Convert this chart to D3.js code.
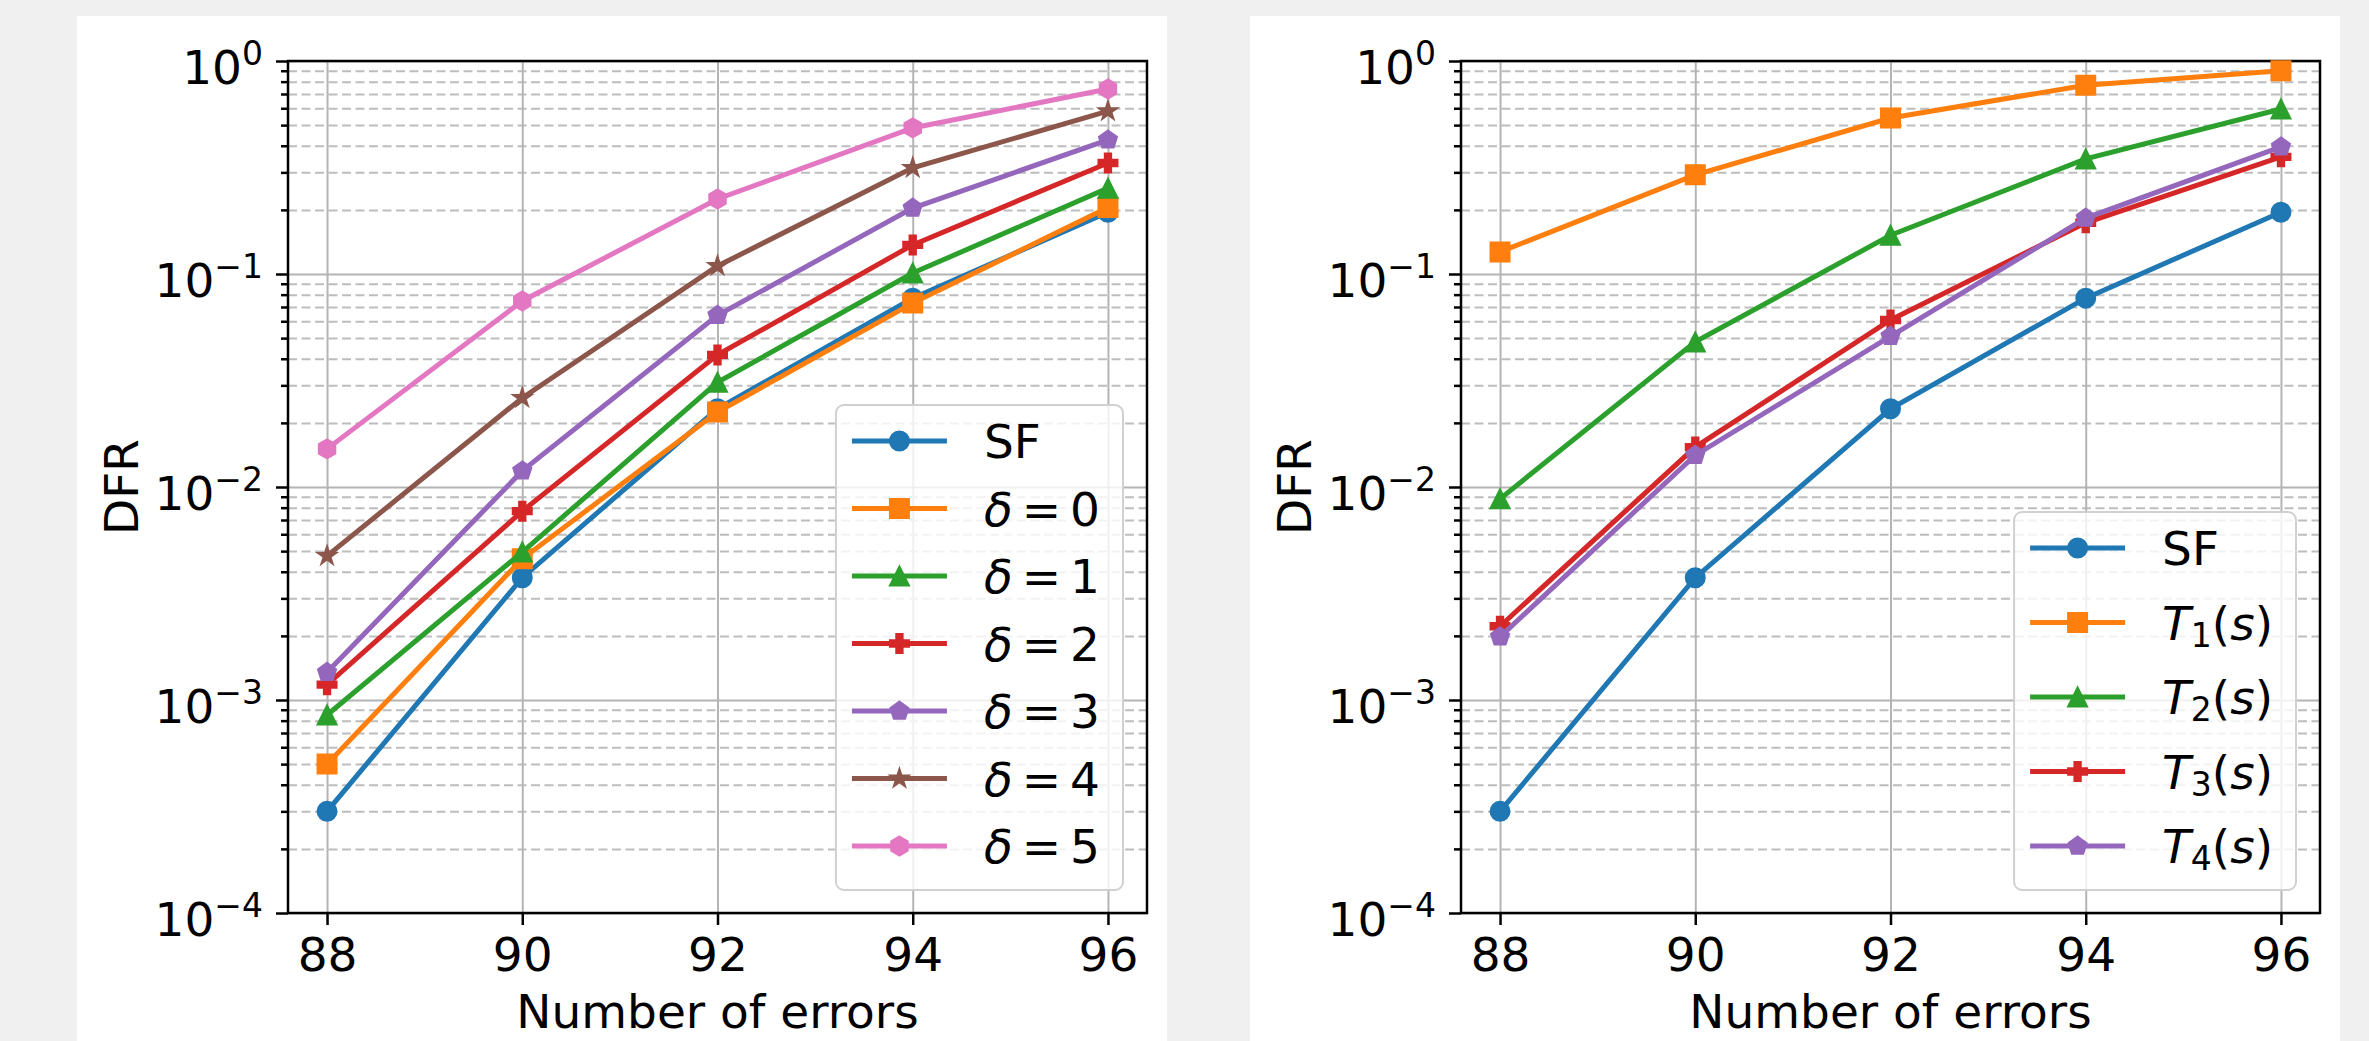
<!DOCTYPE html>
<meta charset="utf-8">
<style>
body { margin: 0; background: #f0f0f0; }
svg { display: block; font-family: "DejaVu Sans", sans-serif; }
.grid .domain, .axis .domain { display: none; }
.grid.major line { stroke: #b4b4b4; stroke-width: 2; }
.grid.minor line { stroke: #bdbdbd; stroke-width: 2; stroke-dasharray: 9,4.5; }
.axis line { stroke: #000; stroke-width: 2.5; }
.axis text { fill: #000; }
.series path.line { fill: none; stroke-width: 5; }
</style>
<svg width="2369" height="1041"></svg>
<script src="https://cdn.jsdelivr.net/npm/d3@7"></script>
<script>
// number of errors on the x axis
var errors = [88, 90, 92, 94, 96];

// left panel: DFR for SF and delta = 0..5
var sf     = [3.0e-4, 3.75e-3, 0.0233, 0.077, 0.195];
var delta0 = [5.0e-4, 4.6e-3, 0.0225, 0.073, 0.205];
var delta1 = [8.5e-4, 4.95e-3, 0.031, 0.101, 0.253];
var delta2 = [1.18e-3, 7.7e-3, 0.0417, 0.137, 0.332];
var delta3 = [1.35e-3, 0.0119, 0.064, 0.204, 0.426];
var delta4 = [4.75e-3, 0.0262, 0.109, 0.315, 0.582];
var delta5 = [0.0151, 0.0747, 0.225, 0.485, 0.739];
var leftNames = ["SF", "δ=0", "δ=1", "δ=2", "δ=3", "δ=4", "δ=5"];

// right panel: DFR for SF and T1(s)..T4(s)
var t1 = [0.127, 0.292, 0.54, 0.77, 0.90];
var t2 = [0.0088, 0.048, 0.152, 0.347, 0.595];
var t3 = [2.22e-3, 0.0154, 0.0608, 0.174, 0.355];
var t4 = [1.98e-3, 0.0141, 0.051, 0.183, 0.395];
var rightNames = ["SF", "T1(s)", "T2(s)", "T3(s)", "T4(s)"];

var yTicks = [1e-4, 1e-3, 1e-2, 1e-1, 1];

var colors = ["#1f77b4", "#ff7f0e", "#2ca02c", "#d62728", "#9467bd", "#8c564b", "#e377c2"],
    markers = ["o", "s", "^", "P", "p", "*", "h"];

var svg = d3.select("svg"),
    margin = {top: 45, left: 211},
    width = 859,
    height = 852,
    fs = 47;

var minorTicks = [];
for (var k = -4; k < 0; k++) {
  for (var m = 2; m < 10; m++) minorTicks.push(m * Math.pow(10, k));
}

// matplotlib-like marker outlines, centred on 0,0
function markerPath(type, s) {
  var r = s / 2, pts = [], n, i, a, rr;
  if (type === "o") return "M" + r + ",0A" + r + "," + r + " 0 1,1 " + (-r) + ",0A" + r + "," + r + " 0 1,1 " + r + ",0Z";
  if (type === "s") return "M" + (-r) + "," + (-r) + "H" + r + "V" + r + "H" + (-r) + "Z";
  if (type === "^") return "M0," + (-r) + "L" + r + "," + r + "L" + (-r) + "," + r + "Z";
  if (type === "P") {
    var t = r / 3;
    return "M" + (-t) + "," + (-r) + "H" + t + "V" + (-t) + "H" + r + "V" + t + "H" + t + "V" + r +
           "H" + (-t) + "V" + t + "H" + (-r) + "V" + (-t) + "H" + (-t) + "Z";
  }
  n = type === "p" ? 5 : type === "h" ? 6 : 10;
  for (i = 0; i < n; i++) {
    a = -Math.PI / 2 + i * 2 * Math.PI / n;
    rr = (type === "*" && i % 2) ? r * 0.381966 : r;
    pts.push([rr * Math.cos(a), rr * Math.sin(a)]);
  }
  return "M" + pts.join("L") + "Z";
}

// legend labels with math-style italics, subscripts and relation spacing
function mathLabel(text, s) {
  if (s === "SF") { text.text(s); return; }
  var prev = "", sub = false;
  s.split("").forEach(function(c) {
    if (c === "δ" || c === "T" || c === "s") {
      text.append("tspan").style("font-style", "italic").text(c);
    } else if (prev === "T" && /\d/.test(c)) {
      text.append("tspan").attr("font-size", 33).attr("dy", 7).text(c);
      sub = true;
    } else if (c === "=") {
      text.append("tspan").attr("dx", 9).text(c);
    } else {
      var ts = text.append("tspan").text(c);
      if (prev === "=") ts.attr("dx", 9);
      if (sub) { ts.attr("dy", -7); sub = false; }
    }
    prev = c;
  });
}

function drawPanel(px, values, names, rowStep) {
  var panel = svg.append("g").attr("transform", "translate(" + px + ",16)");
  panel.append("rect").attr("width", 1090).attr("height", 1100).attr("fill", "#fff");

  var g = panel.append("g").attr("transform", "translate(" + margin.left + "," + margin.top + ")");

  var x = d3.scaleLinear().domain([87.6, 96.4]).range([0, width]),
      y = d3.scaleLog().domain([1e-4, 1]).range([height, 0]);

  // grid
  g.append("g").attr("class", "grid minor")
      .call(d3.axisLeft(y).tickValues(minorTicks).tickSize(-width).tickFormat(""));
  g.append("g").attr("class", "grid major")
      .call(d3.axisLeft(y).tickValues(yTicks).tickSize(-width).tickFormat(""));
  g.append("g").attr("class", "grid major")
      .attr("transform", "translate(0," + height + ")")
      .call(d3.axisBottom(x).tickValues(errors).tickSize(-height).tickFormat(""));

  // axes
  g.append("g").attr("class", "axis")
      .attr("transform", "translate(0," + height + ")")
      .call(d3.axisBottom(x).tickValues(errors).tickSize(12).tickPadding(13).tickFormat(d3.format("d")))
      .attr("font-size", fs).attr("font-family", "DejaVu Sans");

  g.append("g").attr("class", "axis")
      .call(d3.axisLeft(y).tickValues(minorTicks).tickSize(7).tickFormat(""));

  var yAxis = g.append("g").attr("class", "axis")
      .call(d3.axisLeft(y).tickValues(yTicks).tickSize(12).tickPadding(13).tickFormat(""))
      .attr("font-size", fs).attr("font-family", "DejaVu Sans");

  yAxis.selectAll(".tick text")
      .attr("dy", "0.47em")
      .each(function(d) {
        var t = d3.select(this), e = Math.round(Math.log10(d));
        t.append("tspan").text("10");
        t.append("tspan").attr("font-size", 33).attr("dy", -19).text(e < 0 ? "\u2212" + (-e) : e);
      });

  g.append("rect")
      .attr("width", width).attr("height", height)
      .attr("fill", "none").attr("stroke", "#000").attr("stroke-width", 2.5);

  // series
  var line = d3.line()
      .x(function(d) { return x(d[0]); })
      .y(function(d) { return y(d[1]); });

  var series = g.selectAll(".series")
    .data(values)
    .enter().append("g")
      .attr("class", "series");

  series.append("path")
      .attr("class", "line")
      .attr("stroke", function(d, i) { return colors[i]; })
      .attr("d", function(d) { return line(d3.zip(errors, d)); });

  series.each(function(d, i) {
    d3.select(this).selectAll(".pt")
      .data(d3.zip(errors, d))
      .enter().append("path")
        .attr("class", "pt")
        .attr("transform", function(p) { return "translate(" + x(p[0]) + "," + y(p[1]) + ")"; })
        .attr("d", markerPath(markers[i], 19))
        .attr("fill", colors[i])
        .attr("stroke", colors[i])
        .attr("stroke-width", 2);
  });

  // labels
  g.append("text")
      .attr("x", width / 2)
      .attr("y", 967)
      .attr("text-anchor", "middle")
      .attr("font-size", fs)
      .text("Number of errors");

  g.append("text")
      .attr("transform", "translate(-150," + height / 2 + ") rotate(-90)")
      .attr("text-anchor", "middle")
      .attr("font-size", fs)
      .text("DFR");

  // legend
  var legend = g.append("g").attr("class", "legend");
  var box = legend.append("rect")
      .attr("rx", 8)
      .attr("fill", "rgba(255,255,255,0.8)")
      .attr("stroke", "#d0d0d0")
      .attr("stroke-width", 2);

  var boxH = 36 + (names.length - 1) * rowStep + 44,
      boxTop = height - 23 - boxH,
      maxW = 0;

  var rows = legend.selectAll(".row")
    .data(names)
    .enter().append("g")
      .attr("class", "row")
      .attr("transform", function(d, i) { return "translate(0," + (boxTop + 36 + i * rowStep) + ")"; });

  rows.append("line")
      .attr("x1", 16).attr("x2", 111)
      .attr("stroke", function(d, i) { return colors[i]; })
      .attr("stroke-width", 5);

  rows.append("path")
      .attr("transform", "translate(63.5,0)")
      .attr("d", function(d, i) { return markerPath(markers[i], 19); })
      .attr("fill", function(d, i) { return colors[i]; })
      .attr("stroke", function(d, i) { return colors[i]; })
      .attr("stroke-width", 2);

  rows.append("text")
      .attr("x", 148)
      .attr("y", 17)
      .attr("font-size", fs)
      .each(function(d) {
        mathLabel(d3.select(this), d);
        maxW = Math.max(maxW, this.getBBox().width);
      });

  var boxW = 148 + maxW + 23;
  legend.attr("transform", "translate(" + (width - 24 - boxW) + ",0)");
  box.attr("y", boxTop).attr("width", boxW).attr("height", boxH);
}

drawPanel(77, [sf, delta0, delta1, delta2, delta3, delta4, delta5], leftNames, 67.5);
drawPanel(1250, [sf, t1, t2, t3, t4], rightNames, 74.5);
</script>
